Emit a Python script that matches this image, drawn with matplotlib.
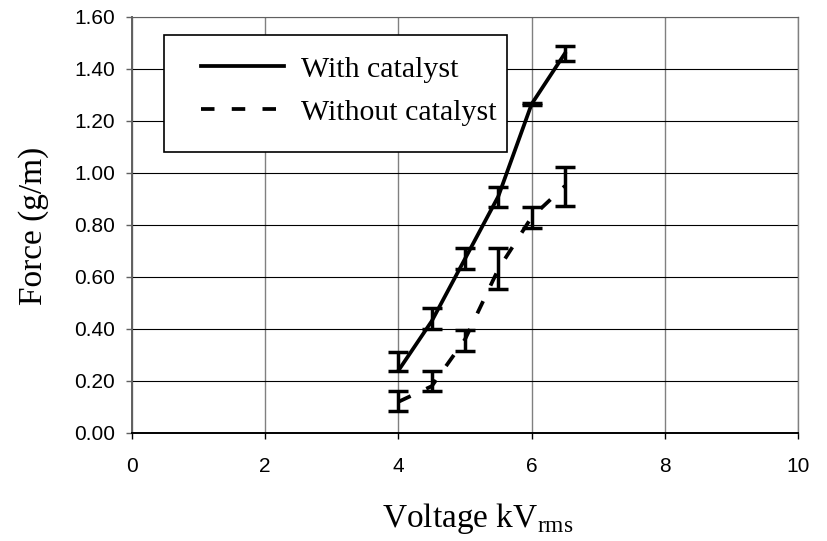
import numpy as np
import matplotlib.pyplot as plt
from matplotlib.patches import Rectangle

plt.rcParams['font.family'] = ['Liberation Sans', 'DejaVu Sans']
plt.rcParams['mathtext.fontset'] = 'custom'
plt.rcParams['mathtext.rm'] = 'Liberation Serif'

# data
voltage = [4.0, 4.5, 5.0, 5.5, 6.0, 6.5]

with_cat = [0.24, 0.43, 0.67, 0.91, 1.265, 1.46]
with_low = [0.24, 0.40, 0.63, 0.87, 1.26, 1.43]
with_high = [0.31, 0.48, 0.71, 0.945, 1.27, 1.49]

without_cat = [0.12, 0.18, 0.36, 0.63, 0.83, 0.95]
without_low = [0.085, 0.16, 0.315, 0.555, 0.79, 0.875]
without_high = [0.16, 0.24, 0.395, 0.71, 0.87, 1.025]

labels = ['With catalyst', 'Without catalyst']
xticks = [0, 2, 4, 6, 8, 10]
yticks = [0.0, 0.2, 0.4, 0.6, 0.8, 1.0, 1.2, 1.4, 1.6]

W, H = 827, 541
fig = plt.figure(figsize=(W / 100, H / 100), dpi=100)
ax = fig.add_axes([132 / W, 1 - 433 / H, (798 - 132) / W, (433 - 17) / H])

serif = {'family': 'Liberation Serif'}

def err(mean, low, high):
    mean = np.array(mean)
    return [mean - np.array(low), np.array(high) - mean]

l1, = ax.plot(voltage, with_cat, color='black', lw=2.7, zorder=3)
l2, = ax.plot(voltage, without_cat, color='black', lw=2.7,
              linestyle=(0, (3.6, 4.6)), zorder=3)
for m, lo, hi in [(with_cat, with_low, with_high),
                  (without_cat, without_low, without_high)]:
    ax.errorbar(voltage, m, yerr=err(m, lo, hi), fmt='none', ecolor='black',
                elinewidth=2.5, capsize=7.5, capthick=2.5, zorder=3)

ax.set_xlim(0, 10)
ax.set_ylim(0, 1.6)
ax.set_xticks(xticks)
ax.set_yticks(yticks)
ax.set_yticklabels(['%.2f' % v for v in yticks])
ax.set_axisbelow(True)
ax.yaxis.grid(True, color='black', lw=0.8)
ax.xaxis.grid(True, color='#808080', lw=1.0)
ax.tick_params(axis='x', direction='out', length=4.3, width=1, color='black',
               labelsize=15, pad=13)
ax.tick_params(axis='y', direction='out', length=4.3, width=1, color='#606060',
               labelsize=15, pad=8)
ax.spines['left'].set_color('#606060')
ax.spines['left'].set_linewidth(1.4)
ax.spines['bottom'].set_color('black')
ax.spines['bottom'].set_linewidth(1.4)
ax.spines['top'].set_color('#606060')
ax.spines['top'].set_linewidth(0.8)
ax.spines['right'].set_color('#808080')
ax.spines['right'].set_linewidth(1.0)

# legend box
ax.add_patch(Rectangle((164 / W, 1 - 152 / H), 343 / W, 117 / H,
                       transform=fig.transFigure, facecolor='white',
                       edgecolor='black', lw=1.2, zorder=4, clip_on=False))
ax.legend([l1, l2], labels, loc='upper left',
          bbox_to_anchor=(201 / W, 1 - 56 / H), bbox_transform=fig.transFigure,
          frameon=False, borderpad=0, borderaxespad=0, handlelength=2.78,
          handletextpad=0.57, labelspacing=0.54,
          prop={'family': 'Liberation Serif', 'size': 21.5}).set_zorder(5)

fig.text(382 / W, 1 - 527 / H, r'Voltage kV$_\mathrm{rms}$', fontsize=24,
         ha='left', va='baseline', fontdict=serif)
fig.text(34 / W, 1 - 226 / H, 'Force (g/m)', fontsize=24, rotation=90,
         ha='center', va='center', fontdict=serif)

fig.savefig('out.png', dpi=100)
